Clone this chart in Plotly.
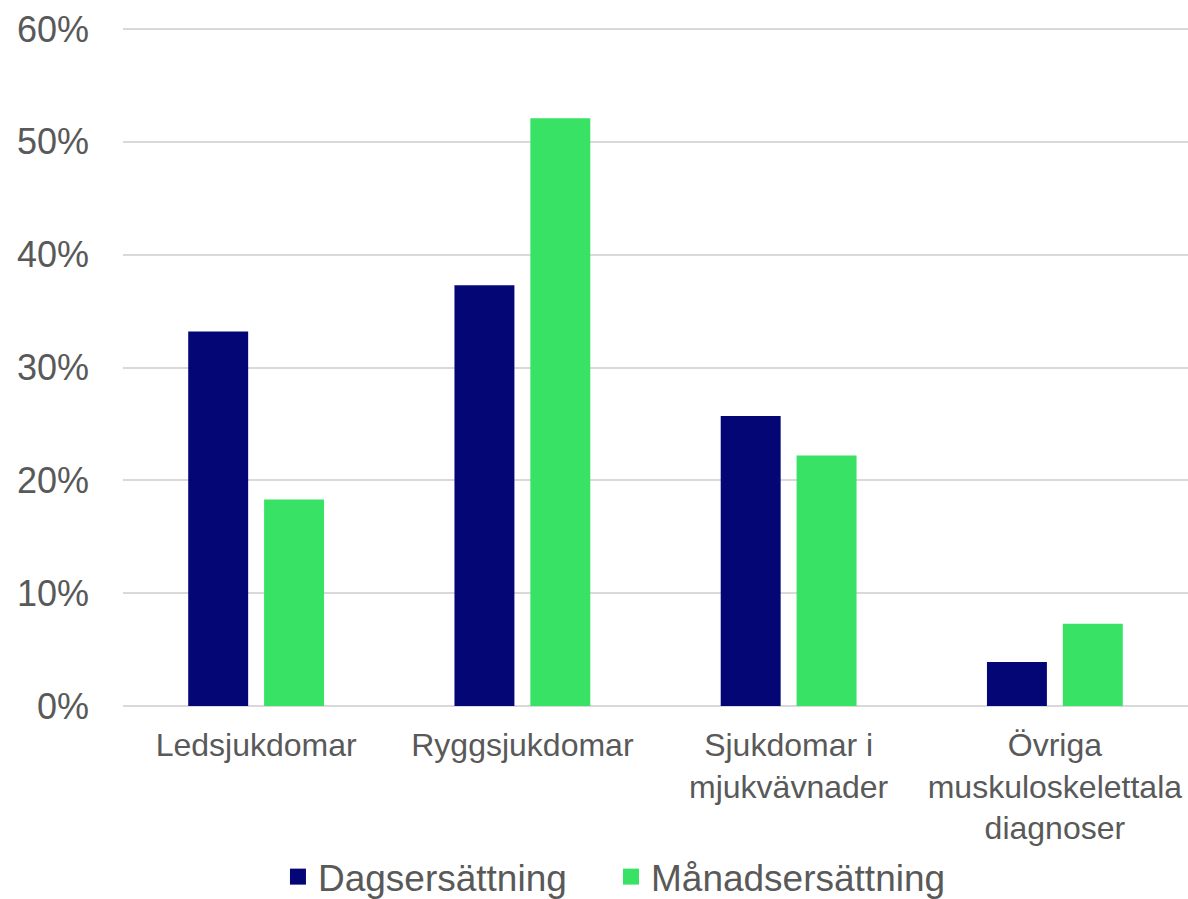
import plotly.graph_objects as go

categories = ["Ledsjukdomar", "Ryggsjukdomar", "Sjukdomar i<br>mjukvävnader",
              "Övriga<br>muskuloskelettala<br>diagnoser"]
dag = [33.2, 37.3, 25.7, 3.9]
manad = [18.3, 52.1, 22.2, 7.3]
series_names = ["Dagsersättning", "Månadsersättning"]
colors = ["#040675", "#38E265"]
ytick_vals = [0, 10, 20, 30, 40, 50, 60]
ytick_text = ["0%", "10%", "20%", "30%", "40%", "50%", "60%"]

fig = go.Figure()
for name, vals, col in zip(series_names, [dag, manad], colors):
    fig.add_trace(go.Bar(x=categories, y=vals, name=name, marker_color=col,
                         marker_line_width=0, showlegend=False))
# legend entries with larger square symbols, one legend box per series
for name, col, lg in zip(series_names, colors, ["legend", "legend2"]):
    fig.add_trace(go.Scatter(x=[None], y=[None], mode="markers", name=name,
                             legend=lg,
                             marker=dict(symbol="square", size=19, color=col)))

legend_common = dict(orientation="h", xanchor="left", y=-0.206, yanchor="top",
                     font=dict(size=37, color="#595959"), itemwidth=30,
                     bgcolor="rgba(0,0,0,0)")

fig.update_layout(
    width=1188, height=899,
    margin=dict(l=123, r=0, t=26, b=193, autoexpand=False),
    paper_bgcolor="white", plot_bgcolor="white",
    barmode="group", bargap=0.43, bargroupgap=0.21,
    font=dict(family="Liberation Sans, Arial, sans-serif", color="#595959"),
    legend=dict(x=0.1455, **legend_common),
    legend2=dict(x=0.4582, **legend_common),
    showlegend=True,
)
fig.update_yaxes(range=[0, 60.27], tickmode="array", tickvals=ytick_vals,
                 ticktext=ytick_text, showgrid=True,
                 gridcolor="#d9d9d9", gridwidth=1.5, zeroline=True,
                 zerolinecolor="#d9d9d9", zerolinewidth=1.5,
                 tickfont=dict(size=36, color="#595959"), ticklabelstandoff=33,
                 showline=False, automargin=False)
fig.update_xaxes(tickfont=dict(size=32, color="#595959"), showline=False,
                 ticklabelstandoff=17, automargin=False)

fig.write_html("out.html")
